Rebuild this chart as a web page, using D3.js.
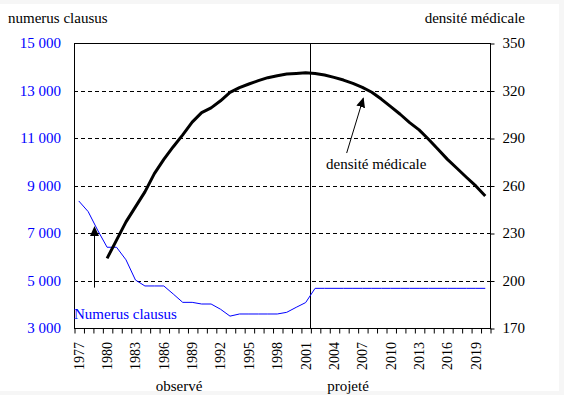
<!DOCTYPE html>
<html>
<head>
<meta charset="utf-8">
<script src="https://cdn.jsdelivr.net/npm/d3@7"></script>
<style>
  html, body { margin: 0; padding: 0; background: #f6f6f6; }
  svg { display: block; }
  text { font-family: "Liberation Serif", "Times New Roman", serif; }
</style>
</head>
<body>
<svg id="chart" width="564" height="395"></svg>
<script>
// categories (years)
var years = [1977, 1978, 1979, 1980, 1981, 1982, 1983, 1984, 1985, 1986, 1987,
             1988, 1989, 1990, 1991, 1992, 1993, 1994, 1995, 1996, 1997, 1998,
             1999, 2000, 2001, 2002, 2003, 2004, 2005, 2006, 2007, 2008, 2009,
             2010, 2011, 2012, 2013, 2014, 2015, 2016, 2017, 2018, 2019, 2020];

// numerus clausus (left axis)
var numerusClausus = [8350, 7900, 7120, 6400, 6400, 5870, 5020, 4770, 4770, 4770, 4430,
                      4080, 4080, 4010, 4010, 3790, 3500, 3590, 3590, 3590, 3590, 3590,
                      3660, 3870, 4070, 4670, 4670, 4670, 4670, 4670, 4670, 4670, 4670,
                      4670, 4670, 4670, 4670, 4670, 4670, 4670, 4670, 4670, 4670, 4670];

// densité médicale (right axis)
var densite = [null, null, null, 214, 225.5, 237, 246.5, 256, 267.5, 276.5, 284.5,
               292, 300, 306, 309, 313.5, 318.8, 321.8, 324.1, 326.2, 328.1, 329.3,
               330.4, 330.8, 331.2, 330.8, 329.8, 328.3, 326.6, 324.5, 322, 318.9, 314.6,
               309.8, 305, 299.7, 295.1, 289.2, 282.9, 276.5, 270.9, 265.2, 259.7, 253.4];

var leftTicks = [3000, 5000, 7000, 9000, 11000, 13000, 15000];
var rightTicks = [170, 200, 230, 260, 290, 320, 350];
var yearLabels = [1977, 1980, 1983, 1986, 1989, 1992, 1995, 1998, 2001, 2004, 2007, 2010, 2013, 2016, 2019];

var plotLeft = 74, plotRight = 490, plotTop = 43, plotBottom = 328;

var svg = d3.select("#chart");

svg.append("rect")
    .attr("x", 0).attr("y", 4)
    .attr("width", 559).attr("height", 387)
    .attr("fill", "#ffffff");

var x = d3.scaleBand().domain(years).range([plotLeft, plotRight]).padding(0);
var xc = function(yr) { return x(yr) + x.bandwidth() / 2; };
// continuous position for annotations
var xYear = d3.scaleLinear().domain([1977, 2020]).range([xc(1977), xc(2020)]);

var yL = d3.scaleLinear().domain([3000, 15000]).range([plotBottom, plotTop]);
var yR = d3.scaleLinear().domain([170, 350]).range([plotBottom, plotTop]);

var fmt = d3.formatLocale({ decimal: ",", thousands: " ", grouping: [3], currency: ["", ""] }).format(",d");

// gridlines
svg.append("g")
    .selectAll("line")
    .data(leftTicks.slice(1, -1))
    .enter().append("line")
        .attr("x1", plotLeft).attr("x2", plotRight)
        .attr("y1", d => Math.round(yL(d)) + 0.5)
        .attr("y2", d => Math.round(yL(d)) + 0.5)
        .attr("stroke", "#000")
        .attr("stroke-dasharray", "4,3");

// plot frame
svg.append("rect")
    .attr("x", plotLeft + 0.5).attr("y", plotTop + 0.5)
    .attr("width", plotRight - plotLeft).attr("height", plotBottom - plotTop)
    .attr("fill", "none").attr("stroke", "#000");

// separator observé / projeté
svg.append("line")
    .attr("x1", Math.round(x(2002)) + 0.5).attr("x2", Math.round(x(2002)) + 0.5)
    .attr("y1", plotTop).attr("y2", plotBottom)
    .attr("stroke", "#000");

// left axis (labels only)
var gL = svg.append("g")
    .attr("transform", "translate(" + plotLeft + ",0)")
    .call(d3.axisLeft(yL).tickValues(leftTicks).tickSize(0).tickPadding(13).tickFormat(fmt));
gL.select(".domain").remove();
gL.selectAll("text")
    .attr("fill", "#0000ff")
    .style("font-size", "15px")
    .style("font-family", "Liberation Serif");

// right axis
var gR = svg.append("g")
    .attr("transform", "translate(" + (plotRight + 0.5) + ",0)")
    .call(d3.axisRight(yR).tickValues(rightTicks).tickSize(4).tickPadding(8));
gR.select(".domain").remove();
gR.selectAll(".tick line").attr("transform", "translate(0,0.5)");
gR.selectAll("text")
    .attr("fill", "#000")
    .style("font-size", "15px")
    .style("font-family", "Liberation Serif");

// x axis ticks on category boundaries
var xi = d3.scaleLinear().domain([0, years.length]).range([plotLeft, plotRight]);
var gX = svg.append("g")
    .attr("transform", "translate(0," + (plotBottom + 0.5) + ")")
    .call(d3.axisBottom(xi).tickValues(d3.range(years.length + 1)).tickSize(5).tickFormat(""));
gX.select(".domain").remove();
gX.selectAll(".tick line").attr("transform", "translate(0.5,0)");

svg.append("g")
    .selectAll("text")
    .data(yearLabels)
    .enter().append("text")
        .attr("transform", d => "translate(" + xc(d) + ",342) rotate(-90)")
        .attr("text-anchor", "end")
        .attr("dy", "0.35em")
        .style("font-size", "14px")
        .text(d => d);

// numerus clausus line
var lineL = d3.line()
    .x((d, i) => xc(years[i]))
    .y(d => yL(d));
svg.append("path")
    .datum(numerusClausus)
    .attr("d", lineL)
    .attr("fill", "none")
    .attr("stroke", "#0000ff")
    .attr("stroke-width", 1);

// densité médicale line
var lineR = d3.line()
    .defined(d => d != null)
    .x((d, i) => xc(years[i]))
    .y(d => yR(d));
svg.append("path")
    .datum(densite)
    .attr("d", lineR)
    .attr("fill", "none")
    .attr("stroke", "#000")
    .attr("stroke-width", 3)
    .attr("stroke-linejoin", "round");

// arrows
svg.append("defs").append("marker")
    .attr("id", "arrow")
    .attr("viewBox", "0 0 10 9")
    .attr("refX", 9).attr("refY", 4.5)
    .attr("markerUnits", "userSpaceOnUse")
    .attr("markerWidth", 10).attr("markerHeight", 9)
    .attr("orient", "auto")
    .append("path")
        .attr("d", "M0,0 L10,4.5 L0,9 Z")
        .attr("fill", "#000");

svg.append("line")
    .attr("x1", xYear(2005.34)).attr("y1", yR(280.5))
    .attr("x2", xYear(2007.1)).attr("y2", yR(315.1))
    .attr("stroke", "#000")
    .attr("marker-end", "url(#arrow)");

svg.append("line")
    .attr("x1", Math.round(xYear(1978.65)) + 0.5).attr("y1", yL(4700))
    .attr("x2", Math.round(xYear(1978.65)) + 0.5).attr("y2", yL(7250))
    .attr("stroke", "#000")
    .attr("marker-end", "url(#arrow)");

// texts
svg.append("text")
    .attr("x", 326).attr("y", 164).attr("dy", "0.35em")
    .style("font-size", "15px")
    .text("densité médicale");

svg.append("text")
    .attr("x", 74).attr("y", 314).attr("dy", "0.35em")
    .attr("fill", "#0000ff")
    .style("font-size", "15px")
    .text("Numerus clausus");

svg.append("text")
    .attr("x", 8).attr("y", 18).attr("dy", "0.35em")
    .style("font-size", "15px")
    .text("numerus clausus");

svg.append("text")
    .attr("x", 525).attr("y", 18).attr("dy", "0.35em")
    .attr("text-anchor", "end")
    .style("font-size", "15px")
    .text("densité médicale");

svg.append("text")
    .attr("x", 179).attr("y", 386).attr("dy", "0.35em")
    .attr("text-anchor", "middle")
    .style("font-size", "15px")
    .text("observé");

svg.append("text")
    .attr("x", 348).attr("y", 386).attr("dy", "0.35em")
    .attr("text-anchor", "middle")
    .style("font-size", "15px")
    .text("projeté");
</script>
</body>
</html>
